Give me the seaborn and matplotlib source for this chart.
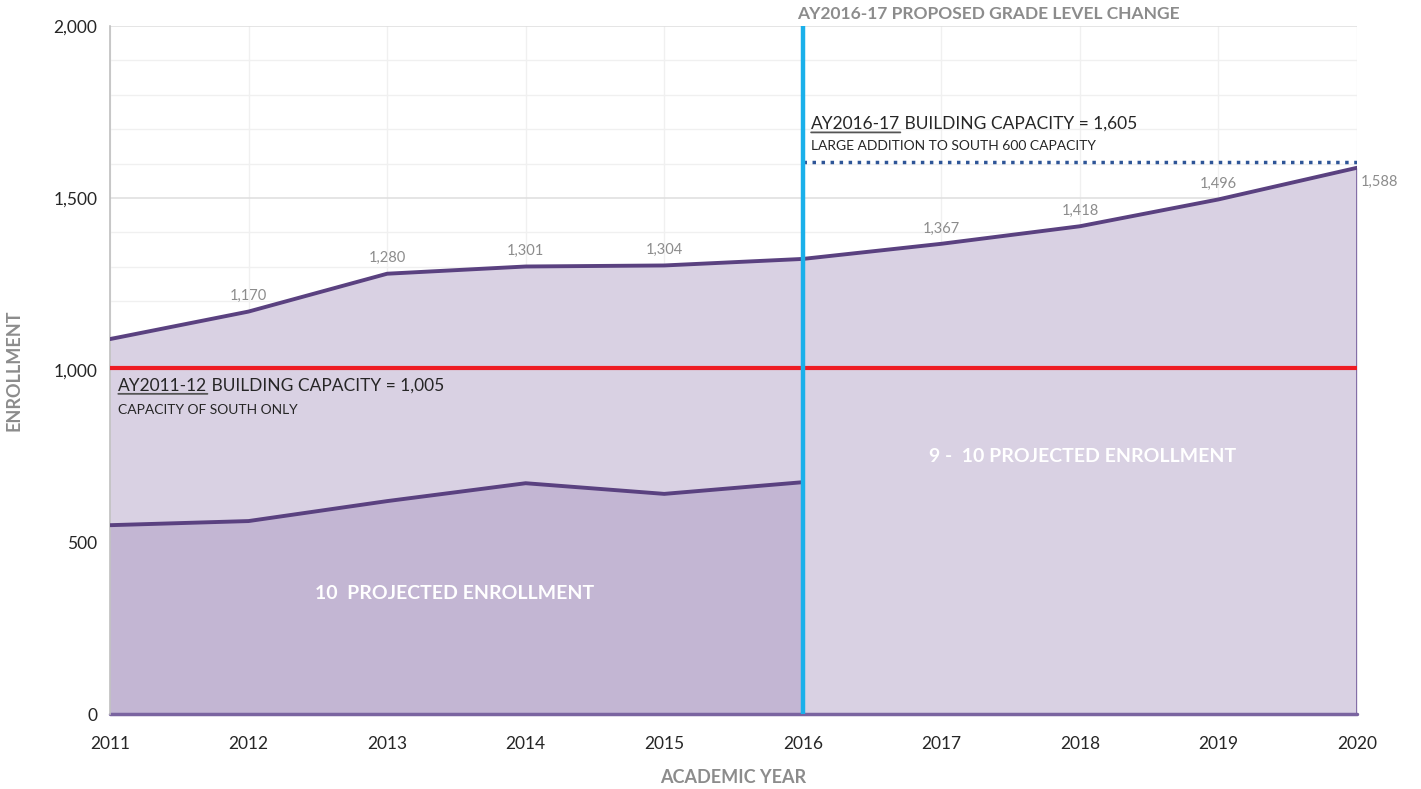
import numpy as np
import pandas as pd
import matplotlib
matplotlib.use("Agg")
import matplotlib.pyplot as plt
import seaborn as sns

# enrollment values
years = [2011, 2012, 2013, 2014, 2015, 2016, 2017, 2018, 2019, 2020]
total_enroll = [1090, 1170, 1280, 1301, 1304, 1323, 1367, 1418, 1496, 1588]
grade10_years = [2011, 2012, 2013, 2014, 2015, 2016]
grade10_enroll = [549, 561, 619, 671, 640, 674]
labelled = [1170, 1280, 1301, 1304, None, 1367, 1418, 1496]  # 2012..2019 labels
cap_2011 = 1005
cap_2016 = 1605
change_year = 2016

sns.set_style("white")
plt.rcParams["font.family"] = ["Lato", "DejaVu Sans"]

line_col = "#5a4180"
upper_fill = "#d9d1e3"
lower_fill = "#c3b6d3"
grey = "#8c8c8c"

total_df = pd.DataFrame({"year": years, "enroll": total_enroll})
g10_df = pd.DataFrame({"year": grade10_years, "enroll": grade10_enroll})

fig = plt.figure(figsize=(14.21, 7.89), dpi=100)
ax = fig.add_axes([0.0774, 0.095, 0.8776, 0.872])

# grid
ax.set_yticks(np.arange(0, 2001, 100), minor=True)
ax.grid(which="minor", axis="y", color="#f0f0f0", lw=1)
ax.grid(which="major", axis="y", color="#e0e0e0", lw=1.2)
ax.grid(which="major", axis="x", color="#f0f0f0", lw=1)
ax.set_axisbelow(True)

# areas
ax.fill_between(total_df.year, 0, total_df.enroll, color=upper_fill, lw=0, zorder=1)
ax.fill_between(g10_df.year, 0, g10_df.enroll, color=lower_fill, lw=0, zorder=1.5)
ax.plot([years[-1], years[-1]], [0, total_enroll[-1]], color="#7a64a0", lw=2, zorder=2)
ax.plot([years[0], years[-1]], [0, 0], color="#7a64a0", lw=2.5, zorder=2, clip_on=False)

sns.lineplot(data=total_df, x="year", y="enroll", color=line_col, lw=2.8, ax=ax, zorder=3)
sns.lineplot(data=g10_df, x="year", y="enroll", color=line_col, lw=2.8, ax=ax, zorder=3)

# capacity lines
ax.axhline(cap_2011, color="#ee1c24", lw=3, zorder=4)
ax.plot([change_year, years[-1]], [cap_2016, cap_2016], color="#2e5597", lw=2.5,
        ls=(0, (1, 1.6)), zorder=4)
ax.axvline(change_year, color="#1ab0ea", lw=3.2, zorder=5)

# data labels
for yr, val in zip(years[1:-1], labelled):
    if val is None:
        continue
    ax.annotate(f"{val:,}", (yr, val), xytext=(0, 6), textcoords="offset points",
                ha="center", va="bottom", fontsize=10.5, color=grey)
ax.annotate(f"{total_enroll[-1]:,}", (years[-1], total_enroll[-1]), xytext=(3, -10),
            textcoords="offset points", ha="left", va="center", fontsize=10.5,
            color=grey, annotation_clip=False)

# annotations
ax.text(change_year - 0.04, 2035, "AY2016-17 PROPOSED GRADE LEVEL CHANGE", fontsize=12.5,
        fontweight="bold", color=grey, ha="left", va="center", clip_on=False)

def cap_label(x, y, head, rest):
    t = ax.text(x, y, head, fontsize=12.5, color="#262626", ha="left", va="center", zorder=6)
    ax.annotate(rest, xy=(1, 0.5), xycoords=t, ha="left", va="center",
                fontsize=12.5, color="#262626", zorder=6)
    ax.annotate("", xy=(0, -0.02), xycoords=t, xytext=(1, -0.02), textcoords=t,
                arrowprops=dict(arrowstyle="-", color="#555555", lw=1.3,
                                shrinkA=0, shrinkB=0))

cap_label(2016.06, 1715, "AY2016-17", " BUILDING CAPACITY = 1,605")
ax.text(2016.06, 1652, "LARGE ADDITION TO SOUTH 600 CAPACITY", fontsize=10,
        color="#262626", ha="left", va="center", zorder=6)
cap_label(2011.06, 955, "AY2011-12", " BUILDING CAPACITY = 1,005")
ax.text(2011.06, 884, "CAPACITY OF SOUTH ONLY", fontsize=10, color="#262626",
        ha="left", va="center", zorder=6)

ax.text(2018.02, 750, "9 -  10 PROJECTED ENROLLMENT", fontsize=14, fontweight="bold",
        color="white", ha="center", va="center", zorder=6)
ax.text(2013.49, 349, "10  PROJECTED ENROLLMENT", fontsize=14, fontweight="bold",
        color="white", ha="center", va="center", zorder=6)

# axes
ax.set_xlim(years[0], years[-1])
ax.set_ylim(0, 2000)
ax.set_xticks(years)
ax.set_yticks([0, 500, 1000, 1500, 2000])
ax.set_yticklabels([f"{v:,}" for v in [0, 500, 1000, 1500, 2000]])
ax.tick_params(axis="both", labelsize=12.5, colors="#262626", length=0)
ax.tick_params(axis="x", pad=16)
ax.tick_params(axis="y", pad=9)
ax.set_xlabel("ACADEMIC YEAR", fontsize=13, fontweight="bold", color=grey, labelpad=12)
ax.set_ylabel("ENROLLMENT", fontsize=13, fontweight="bold", color=grey, labelpad=22)
for s in ["top", "right", "bottom"]:
    ax.spines[s].set_visible(False)
ax.spines["left"].set_color("#bfbfbf")
ax.spines["left"].set_linewidth(1.2)

fig.savefig("out.png", dpi=100)
